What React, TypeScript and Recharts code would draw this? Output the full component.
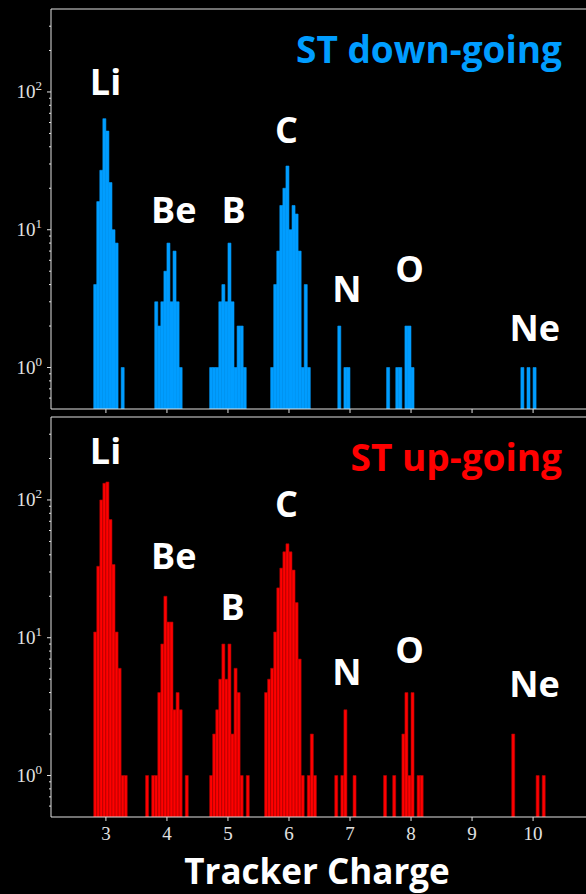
import React from 'react';
import { BarChart, Bar, XAxis, YAxis, ReferenceLine } from 'recharts';

// ---- data (bin left edge, width 0.05 in tracker charge) ----
const downBins = [2.80, 2.85, 2.90, 2.95, 3.00, 3.05, 3.10, 3.15, 3.25,
  3.80, 3.85, 3.90, 3.95, 4.00, 4.05, 4.10, 4.15, 4.20,
  4.70, 4.75, 4.80, 4.85, 4.90, 4.95, 5.00, 5.05, 5.10, 5.15, 5.20, 5.25,
  5.70, 5.75, 5.80, 5.85, 5.90, 5.95, 6.00, 6.05, 6.10, 6.15, 6.20, 6.25, 6.30,
  6.80, 6.90, 6.95,
  7.60, 7.75, 7.80, 7.90, 7.95, 8.00,
  9.80, 9.90, 10.00];
const downCounts = [4, 16, 27, 64, 52, 22, 10, 8, 1,
  3, 2, 3, 5, 8, 3, 7, 3, 1,
  1, 1, 1, 3, 4, 3, 8, 3, 1, 2, 2, 1,
  1, 4, 7, 15, 20, 29, 10, 15, 13, 7, 1, 4, 1,
  2, 1, 1,
  1, 1, 1, 2, 2, 1,
  1, 1, 1];

const upBins = [2.80, 2.85, 2.90, 2.95, 3.00, 3.05, 3.10, 3.15, 3.20, 3.25, 3.30,
  3.65, 3.75, 3.80, 3.85, 3.90, 3.95, 4.00, 4.05, 4.10, 4.15, 4.20, 4.30,
  4.70, 4.75, 4.80, 4.85, 4.90, 4.95, 5.00, 5.05, 5.10, 5.15, 5.20, 5.30,
  5.60, 5.65, 5.70, 5.75, 5.80, 5.85, 5.90, 5.95, 6.00, 6.05, 6.10, 6.15, 6.20, 6.30, 6.35, 6.40,
  6.75, 6.85, 6.90, 7.05,
  7.55, 7.70, 7.85, 7.90, 7.95, 8.00, 8.10, 8.15,
  9.65, 10.05, 10.15];
const upCounts = [11, 33, 100, 132, 135, 72, 34, 11, 6, 1, 1,
  1, 1, 1, 4, 9, 20, 13, 13, 3, 4, 3, 1,
  1, 2, 3, 5, 9, 5, 9, 2, 6, 4, 1, 1,
  4, 5, 6, 11, 23, 32, 42, 48, 42, 31, 18, 7, 1, 1, 2, 1,
  1, 1, 3, 1,
  1, 1, 2, 4, 1, 4, 1, 1,
  2, 1, 1];

const xTicks = [3, 4, 5, 6, 7, 8, 9, 10];
const yTicks = [0.6, 0.7, 0.8, 0.9, 1, 2, 3, 4, 5, 6, 7, 8, 9, 10, 20, 30, 40, 50, 60, 70, 80, 90, 100, 200, 300];
const yMajor = [1, 10, 100];
const xDomain: [number, number] = [2.10, 10.90];
const yDomain: [number, number] = [0.5, 400];
const binWidth = 0.05;

const elements = ['Li', 'Be', 'B', 'C', 'N', 'O', 'Ne'];

function buildTable(bins: number[], counts: number[]) {
  const n = Math.round((xDomain[1] - xDomain[0]) / binWidth);
  const rows: { bin: string; mid: number; count: number | null }[] = [];
  for (let i = 0; i < n; i++) {
    const left = xDomain[0] + i * binWidth;
    rows.push({ bin: left.toFixed(2), mid: left + binWidth / 2, count: null });
  }
  bins.forEach((b, j) => {
    const idx = Math.round((b - xDomain[0]) / binWidth);
    if (rows[idx]) rows[idx].count = counts[j];
  });
  return rows;
}

const downData = buildTable(downBins, downCounts);
const upData = buildTable(upBins, upCounts);

const AXIS = '#e2e2e2';
const SERIF = '"Liberation Serif", "DejaVu Serif", serif';
const SANS = '"Open Sans", "Noto Sans", sans-serif';

const YTick = (props: any) => {
  const { x, y, payload } = props;
  const v = payload.value;
  const major = yMajor.includes(v);
  const exp = Math.round(Math.log10(v));
  return (
    <g>
      <line x1={x - (major ? 4 : 2)} x2={x} y1={y} y2={y} stroke={AXIS} strokeWidth={1} />
      {major && (
        <text x={x - 9} y={y + 6.5} textAnchor="end" fill={AXIS} fontFamily={SERIF} fontSize={19}>
          10<tspan dy={-8} fontSize={13}>{exp}</tspan>
        </text>
      )}
    </g>
  );
};

const makeXTick = (showLabel: boolean) => (props: any) => {
  const { x, y, payload } = props;
  return (
    <g>
      <line x1={x} x2={x} y1={y} y2={y + 4} stroke={AXIS} strokeWidth={1} />
      {showLabel && (
        <text x={x} y={y + 23} textAnchor="middle" fill={AXIS} fontFamily={SERIF} fontSize={19}>
          {payload.value}
        </text>
      )}
    </g>
  );
};

function Panel({ data, color, edge, edgeWidth, showLabels, height }: any) {
  return (
    <BarChart
      width={588}
      height={height}
      data={data}
      margin={{ top: 9, right: 0, left: 0, bottom: 0 }}
      barCategoryGap={0}
      barGap={0}
    >
      <XAxis xAxisId="cat" dataKey="bin" type="category" hide height={0} />
      <XAxis
        xAxisId="num"
        dataKey="mid"
        type="number"
        domain={xDomain}
        ticks={xTicks}
        allowDataOverflow
        interval={0}
        height={showLabels ? 30 : 10}
        axisLine={{ stroke: AXIS, strokeWidth: 1 }}
        tickLine={false}
        tickSize={0}
        tickMargin={0}
        tick={makeXTick(showLabels)}
      />
      <YAxis
        type="number"
        scale="log"
        domain={yDomain}
        allowDataOverflow
        ticks={yTicks}
        interval={0}
        width={51}
        axisLine={{ stroke: AXIS, strokeWidth: 1 }}
        tickLine={false}
        tickSize={0}
        tickMargin={0}
        tick={<YTick />}
      />
      <ReferenceLine xAxisId="cat" y={yDomain[1]} stroke={AXIS} strokeWidth={1} ifOverflow="visible" />
      <Bar
        xAxisId="cat"
        dataKey="count"
        fill={color}
        stroke={edge}
        strokeWidth={edgeWidth}
        isAnimationActive={false}
      />
    </BarChart>
  );
}

const labelStyle = { fontFamily: SANS, fontWeight: 700, fill: '#ffffff' } as const;

// annotation placement (page px): [centerX, baselineY]
const downLabelPos = [[105.5, 95], [173.8, 222.5], [233.5, 222.5], [286.5, 143], [347, 301.5], [409.7, 281.5], [534.7, 340.5]];
const upLabelPos = [[105.5, 464], [173.8, 569], [232.5, 620], [286.5, 517], [347, 685], [409.7, 663], [534.5, 697]];

export default function App() {
  return (
    <div style={{ position: 'absolute', left: 0, top: 0, width: 586, height: 894, background: '#000', overflow: 'hidden' }}>
      <div style={{ position: 'absolute', left: 0, top: 0 }}>
        <Panel data={downData} color="#009dff" edge="#009dff" edgeWidth={0.6} showLabels={false} height={419} />
      </div>
      <div style={{ position: 'absolute', left: 0, top: 408 }}>
        <Panel data={upData} color="#ff0000" edge="#b00000" edgeWidth={0.6} showLabels={true} height={439} />
      </div>
      <svg width={586} height={894} style={{ position: 'absolute', left: 0, top: 0, pointerEvents: 'none' }}>
        {elements.map((el, i) => (
          <text key={'d' + el} x={downLabelPos[i][0]} y={downLabelPos[i][1]} textAnchor="middle" fontSize={36} {...labelStyle}>{el}</text>
        ))}
        {elements.map((el, i) => (
          <text key={'u' + el} x={upLabelPos[i][0]} y={upLabelPos[i][1]} textAnchor="middle" fontSize={36} {...labelStyle}>{el}</text>
        ))}
        <text x={562} y={63} textAnchor="end" fontSize={37} fontFamily={SANS} fontWeight={700} fill="#009dff">ST down-going</text>
        <text x={562} y={471} textAnchor="end" fontSize={37} fontFamily={SANS} fontWeight={700} fill="#ff0000">ST up-going</text>
        <text x={317} y={884} textAnchor="middle" fontSize={35} fontFamily={SANS} fontWeight={700} fill="#ffffff">Tracker Charge</text>
      </svg>
    </div>
  );
}
